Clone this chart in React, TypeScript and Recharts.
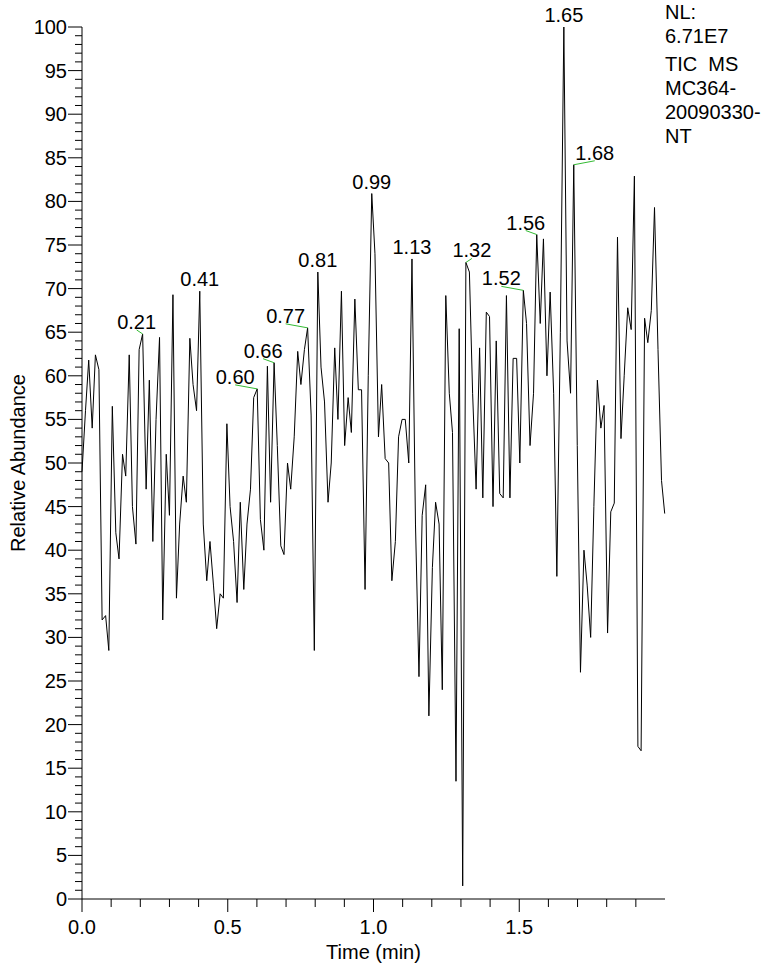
import React from 'react';
import { LineChart, Line, XAxis, YAxis, Label } from 'recharts';

// scan times (min) and relative abundance (%) of the TIC trace
const scanTimes = [
  0.000, 0.012, 0.023, 0.035, 0.046, 0.058, 0.069, 0.081, 0.092, 0.104,
  0.116, 0.127, 0.139, 0.150, 0.162, 0.173, 0.185, 0.196, 0.208, 0.220,
  0.231, 0.243, 0.254, 0.266, 0.277, 0.289, 0.300, 0.312, 0.324, 0.335,
  0.347, 0.358, 0.370, 0.381, 0.393, 0.404, 0.416, 0.428, 0.439, 0.451,
  0.462, 0.474, 0.485, 0.497, 0.508, 0.520, 0.532, 0.543, 0.555, 0.566,
  0.578, 0.589, 0.601, 0.612, 0.624, 0.636, 0.647, 0.659, 0.670, 0.682,
  0.693, 0.705, 0.716, 0.728, 0.740, 0.751, 0.763, 0.774, 0.786, 0.797,
  0.809, 0.820, 0.832, 0.844, 0.855, 0.867, 0.878, 0.890, 0.901, 0.913,
  0.924, 0.936, 0.948, 0.959, 0.971, 0.982, 0.994, 1.005, 1.017, 1.028,
  1.040, 1.052, 1.063, 1.075, 1.086, 1.098, 1.109, 1.121, 1.132, 1.144,
  1.156, 1.167, 1.179, 1.190, 1.202, 1.213, 1.225, 1.236, 1.248, 1.260,
  1.271, 1.283, 1.294, 1.306, 1.317, 1.329, 1.340, 1.352, 1.364, 1.375,
  1.387, 1.398, 1.410, 1.421, 1.433, 1.445, 1.456, 1.468, 1.479, 1.491,
  1.502, 1.514, 1.525, 1.537, 1.549, 1.560, 1.572, 1.583, 1.595, 1.606,
  1.618, 1.629, 1.641, 1.653, 1.664, 1.676, 1.687, 1.699, 1.710, 1.722,
  1.733, 1.745, 1.756, 1.768, 1.780, 1.791, 1.803, 1.814, 1.826, 1.837,
  1.849, 1.860, 1.872, 1.884, 1.895, 1.907, 1.918, 1.930, 1.941, 1.953,
  1.964, 1.976, 1.988, 1.999,
];

const abundance = [
  49, 56, 61.8, 54, 62.4, 60.7, 32, 32.5, 28.5, 56.5,
  42, 39, 51, 48.5, 62.4, 45, 40.7, 63, 64.8, 47,
  59.5, 41, 55, 64.4, 32, 51, 44, 69.3, 34.5, 43,
  48.5, 45.5, 64.3, 59, 56, 69.7, 43, 36.5, 41, 36,
  31, 35, 34.5, 54.5, 45, 41, 34, 45.5, 35.5, 43,
  47, 57.5, 58.5, 43.5, 40, 61.1, 45.5, 61.5, 52, 40.5,
  39.5, 50, 47, 53, 62.8, 59, 63, 65.5, 55.5, 28.5,
  71.9, 61, 57, 45.5, 50, 63.2, 55, 69.7, 52, 57.5,
  53.5, 68.8, 58.4, 58.4, 35.5, 60, 80.9, 74, 53, 59,
  50.5, 50, 36.5, 41, 53, 55, 55, 50, 73.4, 43,
  25.5, 44, 47.5, 21, 38, 45.5, 43, 24, 69.2, 58,
  53.5, 13.5, 65.4, 1.5, 73, 71.9, 58, 47, 63.2, 46,
  67.3, 66.8, 45, 64, 46.5, 46, 69.2, 46, 62, 62,
  50, 69.8, 66, 52, 58, 76.2, 66, 75.7, 60, 69.6,
  58, 37, 65, 100, 64, 58, 84.2, 52, 26, 40,
  36, 30, 45, 59.5, 54, 56.6, 30.5, 44.4, 45.4, 75.9,
  52.8, 60, 67.8, 65.3, 82.9, 17.5, 17, 66.6, 63.8, 67.5,
  79.3, 63, 48, 44.2,
];

// labelled peaks: scan index and printed retention time
const peakIndex = [18, 35, 52, 57, 67, 70, 86, 98, 114, 131, 135, 143, 146];
const peakText = ['0.21', '0.41', '0.60', '0.66', '0.77', '0.81', '0.99', '1.13', '1.32', '1.52', '1.56', '1.65', '1.68'];
// horizontal offset of a label from its apex; non-zero ones get a green leader line
const peakShift = [-6, 0, -22, -11, -22, 0, 0, 0, 6, -22, -11, 0, 21];

const xTicks = [0, 0.1, 0.2, 0.3, 0.4, 0.5, 0.6, 0.7, 0.8, 0.9, 1, 1.1, 1.2, 1.3, 1.4, 1.5, 1.6, 1.7, 1.8, 1.9];
const xLabelled = [0, 0.5, 1, 1.5];
const yTicks = Array.from({ length: 101 }, (_, i) => i);

const headerLines = ['NL:', '6.71E7'];
const traceLines = ['TIC  MS', 'MC364-', '20090330-', 'NT'];

const data = scanTimes.map((t, i) => ({ t, v: abundance[i] }));

const FONT = '"Liberation Sans", Arial, sans-serif';
const FS = 20;

const XTick = ({ x, y, payload }: any) => {
  const major = xLabelled.includes(payload.value);
  return (
    <g>
      <line x1={x} x2={x} y1={y} y2={y + (major ? 13 : 8)} stroke="#000" />
      {major && (
        <text x={x} y={y + 28} textAnchor="middle" dominantBaseline="central" fontFamily={FONT} fontSize={FS} fill="#000">
          {payload.value.toFixed(1)}
        </text>
      )}
    </g>
  );
};

const YTick = ({ x, y, payload }: any) => {
  const major = payload.value % 5 === 0;
  return (
    <g>
      <line x1={x - (major ? 14 : 7)} x2={x} y1={y} y2={y} stroke="#000" />
      {major && (
        <text x={x - 15} y={y} textAnchor="end" dominantBaseline="central" fontFamily={FONT} fontSize={FS} fill="#000">
          {payload.value}
        </text>
      )}
    </g>
  );
};

const PeakLabel = (props: any) => {
  const { cx, cy, index } = props;
  const k = peakIndex.indexOf(index);
  if (k < 0) return <g key={`p${index}`} />;
  const dx = peakShift[k];
  return (
    <g key={`p${index}`}>
      {dx !== 0 && <line x1={cx + dx} y1={cy - 4} x2={cx} y2={cy} stroke="#33bb33" strokeWidth={1} />}
      <text x={cx + dx} y={cy - 12} textAnchor="middle" dominantBaseline="central" fontFamily={FONT} fontSize={FS} fill="#000">
        {peakText[k]}
      </text>
    </g>
  );
};

export default function App() {
  const textStyle: React.CSSProperties = { fontFamily: FONT, fontSize: FS, lineHeight: '24px', whiteSpace: 'pre', color: '#000' };
  return (
    <div style={{ position: 'absolute', left: 0, top: 0, width: 768, height: 969, background: '#fff' }}>
      <LineChart width={768} height={969} data={data} margin={{ top: 27, right: 103, bottom: 0, left: 0 }}>
        <XAxis
          type="number"
          dataKey="t"
          domain={[0, 2]}
          ticks={xTicks}
          interval={0}
          tick={<XTick />}
          tickLine={false}
          tickSize={0}
          tickMargin={0}
          height={70}
          axisLine={{ stroke: '#000' }}
        >
          <Label
            content={({ viewBox }: any) => (
              <text x={viewBox.x + viewBox.width / 2} y={viewBox.y + 53} textAnchor="middle" dominantBaseline="central" fontFamily={FONT} fontSize={FS} fill="#000">
                Time (min)
              </text>
            )}
          />
        </XAxis>
        <YAxis
          type="number"
          domain={[0, 100]}
          ticks={yTicks}
          interval={0}
          tick={<YTick />}
          tickLine={false}
          tickSize={0}
          tickMargin={0}
          width={82}
          axisLine={{ stroke: '#000' }}
        >
          <Label
            content={({ viewBox }: any) => {
              const cx = viewBox.x + 18;
              const cy = viewBox.y + viewBox.height / 2;
              return (
                <text x={cx} y={cy} transform={`rotate(-90 ${cx} ${cy})`} textAnchor="middle" dominantBaseline="central" fontFamily={FONT} fontSize={FS} fill="#000">
                  Relative Abundance
                </text>
              );
            }}
          />
        </YAxis>
        <Line
          type="linear"
          dataKey="v"
          stroke="#000"
          strokeWidth={1}
          dot={PeakLabel}
          activeDot={false}
          isAnimationActive={false}
        />
      </LineChart>
      <div style={{ ...textStyle, position: 'absolute', left: 665, top: 0 }}>
        {headerLines.map((s) => <div key={s}>{s}</div>)}
      </div>
      <div style={{ ...textStyle, position: 'absolute', left: 665, top: 52 }}>
        {traceLines.map((s) => <div key={s}>{s}</div>)}
      </div>
    </div>
  );
}
